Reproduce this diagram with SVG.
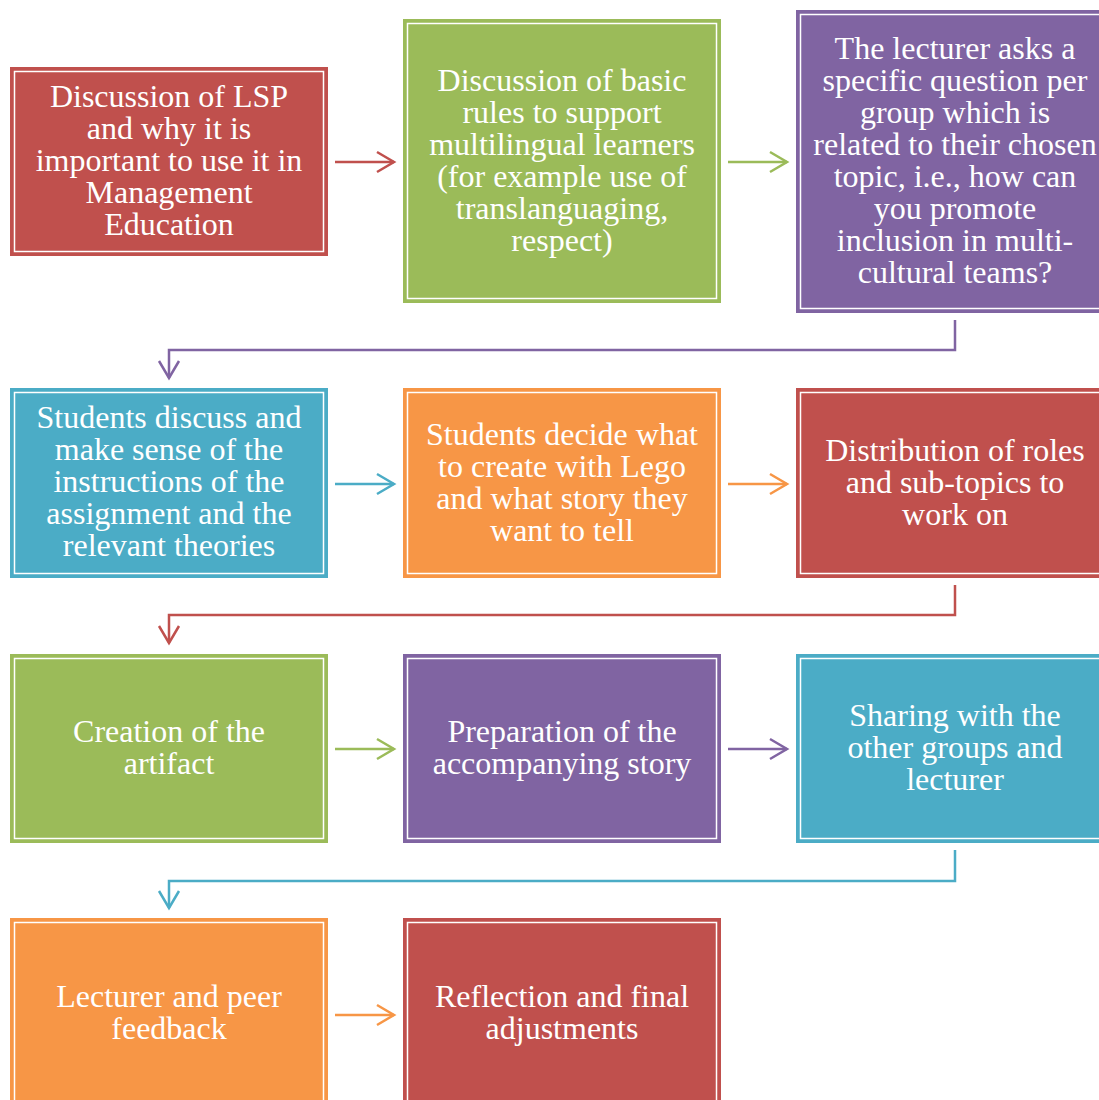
<svg xmlns="http://www.w3.org/2000/svg" width="1099" height="1100" viewBox="0 0 1099 1100">
<style>
.lbl{font-family:"Liberation Serif","Times New Roman",serif;font-size:32px;fill:#fff;text-anchor:middle}
.inner{fill:none;stroke:#fff;stroke-width:1.5}
.red{fill:#C0504D;stroke:#C0504D}
.green{fill:#9BBB59;stroke:#9BBB59}
.purple{fill:#8064A2;stroke:#8064A2}
.blue{fill:#4BACC6;stroke:#4BACC6}
.orange{fill:#F79646;stroke:#F79646}
.box{stroke-width:2}
.conn{fill:none;stroke-width:2.5}
</style>
<defs>
<marker id="mRed" viewBox="0 0 24 24" markerWidth="24" markerHeight="24" refX="20" refY="12" orient="auto" markerUnits="userSpaceOnUse"><path d="M3,2 L20,12 L3,22" fill="none" stroke="#C0504D" stroke-width="2.5"/></marker>
<marker id="mGreen" viewBox="0 0 24 24" markerWidth="24" markerHeight="24" refX="20" refY="12" orient="auto" markerUnits="userSpaceOnUse"><path d="M3,2 L20,12 L3,22" fill="none" stroke="#9BBB59" stroke-width="2.5"/></marker>
<marker id="mPurple" viewBox="0 0 24 24" markerWidth="24" markerHeight="24" refX="20" refY="12" orient="auto" markerUnits="userSpaceOnUse"><path d="M3,2 L20,12 L3,22" fill="none" stroke="#8064A2" stroke-width="2.5"/></marker>
<marker id="mBlue" viewBox="0 0 24 24" markerWidth="24" markerHeight="24" refX="20" refY="12" orient="auto" markerUnits="userSpaceOnUse"><path d="M3,2 L20,12 L3,22" fill="none" stroke="#4BACC6" stroke-width="2.5"/></marker>
<marker id="mOrange" viewBox="0 0 24 24" markerWidth="24" markerHeight="24" refX="20" refY="12" orient="auto" markerUnits="userSpaceOnUse"><path d="M3,2 L20,12 L3,22" fill="none" stroke="#F79646" stroke-width="2.5"/></marker>
</defs>
<rect width="1099" height="1100" fill="#fff"/>

<g id="connectors">
<path class="conn" stroke="#C0504D" d="M335,162 H394" marker-end="url(#mRed)"/>
<path class="conn" stroke="#9BBB59" d="M728,162 H787" marker-end="url(#mGreen)"/>
<path class="conn" stroke="#8064A2" d="M955,320 V350 H169 V378" marker-end="url(#mPurple)"/>
<path class="conn" stroke="#4BACC6" d="M335,484 H394" marker-end="url(#mBlue)"/>
<path class="conn" stroke="#F79646" d="M728,484 H787" marker-end="url(#mOrange)"/>
<path class="conn" stroke="#C0504D" d="M955,585 V615 H169 V643" marker-end="url(#mRed)"/>
<path class="conn" stroke="#9BBB59" d="M335,749 H394" marker-end="url(#mGreen)"/>
<path class="conn" stroke="#8064A2" d="M728,749 H787" marker-end="url(#mPurple)"/>
<path class="conn" stroke="#4BACC6" d="M955,850 V881 H169 V908" marker-end="url(#mBlue)"/>
<path class="conn" stroke="#F79646" d="M335,1015 H394" marker-end="url(#mOrange)"/>
</g>

<g id="n1">
<rect class="box red" x="11" y="68" width="316" height="187"/>
<rect class="inner" x="14.5" y="71.5" width="309" height="180"/>
<text class="lbl" x="169" y="107"><tspan x="169">Discussion of LSP</tspan><tspan x="169" dy="32">and why it is</tspan><tspan x="169" dy="32">important to use it in</tspan><tspan x="169" dy="32">Management</tspan><tspan x="169" dy="32">Education</tspan></text>
</g>

<g id="n2">
<rect class="box green" x="404" y="20" width="316" height="282"/>
<rect class="inner" x="407.5" y="23.5" width="309" height="275"/>
<text class="lbl" x="562" y="91"><tspan x="562">Discussion of basic</tspan><tspan x="562" dy="32">rules to support</tspan><tspan x="562" dy="32">multilingual learners</tspan><tspan x="562" dy="32">(for example use of</tspan><tspan x="562" dy="32">translanguaging,</tspan><tspan x="562" dy="32">respect)</tspan></text>
</g>

<g id="n3">
<rect class="box purple" x="797" y="11" width="316" height="301"/>
<rect class="inner" x="800.5" y="14.5" width="309" height="294"/>
<text class="lbl" x="955" y="59"><tspan x="955">The lecturer asks a</tspan><tspan x="955" dy="32">specific question per</tspan><tspan x="955" dy="32">group which is</tspan><tspan x="955" dy="32">related to their chosen</tspan><tspan x="955" dy="32">topic, i.e., how can</tspan><tspan x="955" dy="32">you promote</tspan><tspan x="955" dy="32">inclusion in multi-</tspan><tspan x="955" dy="32">cultural teams?</tspan></text>
</g>

<g id="n4">
<rect class="box blue" x="11" y="389" width="316" height="188"/>
<rect class="inner" x="14.5" y="392.5" width="309" height="181"/>
<text class="lbl" x="169" y="428"><tspan x="169">Students discuss and</tspan><tspan x="169" dy="32">make sense of the</tspan><tspan x="169" dy="32">instructions of the</tspan><tspan x="169" dy="32">assignment and the</tspan><tspan x="169" dy="32">relevant theories</tspan></text>
</g>

<g id="n5">
<rect class="box orange" x="404" y="389" width="316" height="188"/>
<rect class="inner" x="407.5" y="392.5" width="309" height="181"/>
<text class="lbl" x="562" y="445"><tspan x="562">Students decide what</tspan><tspan x="562" dy="32">to create with Lego</tspan><tspan x="562" dy="32">and what story they</tspan><tspan x="562" dy="32">want to tell</tspan></text>
</g>

<g id="n6">
<rect class="box red" x="797" y="389" width="316" height="188"/>
<rect class="inner" x="800.5" y="392.5" width="309" height="181"/>
<text class="lbl" x="955" y="461"><tspan x="955">Distribution of roles</tspan><tspan x="955" dy="32">and sub-topics to</tspan><tspan x="955" dy="32">work on</tspan></text>
</g>

<g id="n7">
<rect class="box green" x="11" y="655" width="316" height="187"/>
<rect class="inner" x="14.5" y="658.5" width="309" height="180"/>
<text class="lbl" x="169" y="742"><tspan x="169">Creation of the</tspan><tspan x="169" dy="32">artifact</tspan></text>
</g>

<g id="n8">
<rect class="box purple" x="404" y="655" width="316" height="187"/>
<rect class="inner" x="407.5" y="658.5" width="309" height="180"/>
<text class="lbl" x="562" y="742"><tspan x="562">Preparation of the</tspan><tspan x="562" dy="32">accompanying story</tspan></text>
</g>

<g id="n9">
<rect class="box blue" x="797" y="655" width="316" height="187"/>
<rect class="inner" x="800.5" y="658.5" width="309" height="180"/>
<text class="lbl" x="955" y="726"><tspan x="955">Sharing with the</tspan><tspan x="955" dy="32">other groups and</tspan><tspan x="955" dy="32">lecturer</tspan></text>
</g>

<g id="n10">
<rect class="box orange" x="11" y="919" width="316" height="187"/>
<rect class="inner" x="14.5" y="922.5" width="309" height="180"/>
<text class="lbl" x="169" y="1007"><tspan x="169">Lecturer and peer</tspan><tspan x="169" dy="32">feedback</tspan></text>
</g>

<g id="n11">
<rect class="box red" x="404" y="919" width="316" height="187"/>
<rect class="inner" x="407.5" y="922.5" width="309" height="180"/>
<text class="lbl" x="562" y="1007"><tspan x="562">Reflection and final</tspan><tspan x="562" dy="32">adjustments</tspan></text>
</g>
</svg>
